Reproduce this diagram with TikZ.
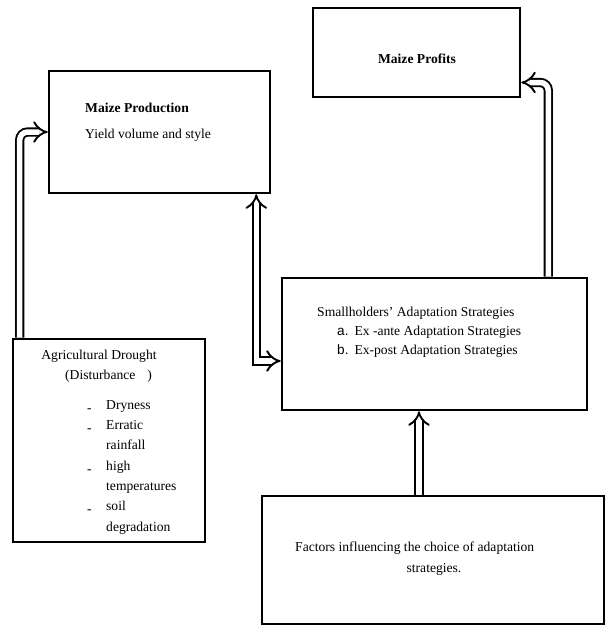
\documentclass[tikz,border=0pt]{standalone}
\usepackage{fontspec}
\setmainfont{Liberation Serif}
\newfontfamily\arialfont{Liberation Sans}
\usetikzlibrary{arrows.meta}

\begin{document}
\begin{tikzpicture}[x=1pt,y=-1pt,
    box/.style={draw, line width=2.6pt, inner sep=0pt},
    txt/.style={font=\fontsize{13.6}{20.3}\selectfont, inner sep=0pt},
    dbl/.style={line width=1.9pt, double distance=5.5pt, -{Implies[scale=1.5]}}]
        \useasboundingbox (0,0) rectangle (605,627);
        % boxes
        \node[box, minimum width=221pt, minimum height=122pt] (prod) at (159.5,132) {};
        \node[box, minimum width=207pt, minimum height=89pt] (profit) at (416.5,52.5) {};
        \node[box, minimum width=305pt, minimum height=132pt] (small) at (434.5,344) {};
        \node[box, minimum width=192pt, minimum height=203pt] (drought) at (109,440.5) {};
        \node[box, minimum width=342pt, minimum height=128pt] (factors) at (433,560) {};
        % texts
        \node[txt, anchor=base west] (prodT) at (85,112) {\bfseries Maize Production};
        \node[txt, anchor=base west] (prodY) at (85,138) {Yield volume and style};
        \node[txt, anchor=base] (profitT) at (417,63) {\bfseries Maize Profits};
        \node[txt, anchor=base west] (smallT) at (317,316) {Smallholders’ Adaptation Strategies};
        \node[txt, anchor=base west] (smallA) at (337,335) {{\arialfont a.}\hspace{6pt}Ex -ante Adaptation Strategies};
        \node[txt, anchor=base west] (smallB) at (337,354) {{\arialfont b.}\hspace{6pt}Ex-post Adaptation Strategies};
        \node[txt, anchor=base] (droughtT) at (99,359) {Agricultural Drought};
        \node[txt, anchor=base west] (droughtD) at (65,379) {(Disturbance\hspace{12pt})};
        \node[txt, anchor=base west, align=left] (droughtL) at (87,531) {%
            \makebox[19pt][l]{\raisebox{-3pt}{-}}Dryness\\
            \makebox[19pt][l]{\raisebox{-3pt}{-}}Erratic\\
            \hspace{19pt}rainfall\\
            \makebox[19pt][l]{\raisebox{-3pt}{-}}high\\
            \hspace{19pt}temperatures\\
            \makebox[19pt][l]{\raisebox{-3pt}{-}}soil\\
            \hspace{19pt}degradation};
        \node[txt, anchor=base west] (factT) at (295,551) {Factors influencing the choice of adaptation};
        \node[txt, anchor=base] (factS) at (434,572) {strategies.};
        % arrows
        \draw[dbl, rounded corners=8pt] ([xshift=8pt]drought.north west) |- (prod.west);
        \draw[dbl, {Implies[scale=1.5]}-{Implies[scale=1.5]}] ([xshift=-15pt]prod.south east) |- ([yshift=-17pt]small.west);
        \draw[dbl, rounded corners=8pt] ([xshift=-40pt]small.north east) |- ([yshift=-30pt]profit.east);
        \draw[dbl] ([xshift=-14pt]factors.north) -- ([xshift=-14pt]factors.north |- small.south);
\end{tikzpicture}
\end{document}
